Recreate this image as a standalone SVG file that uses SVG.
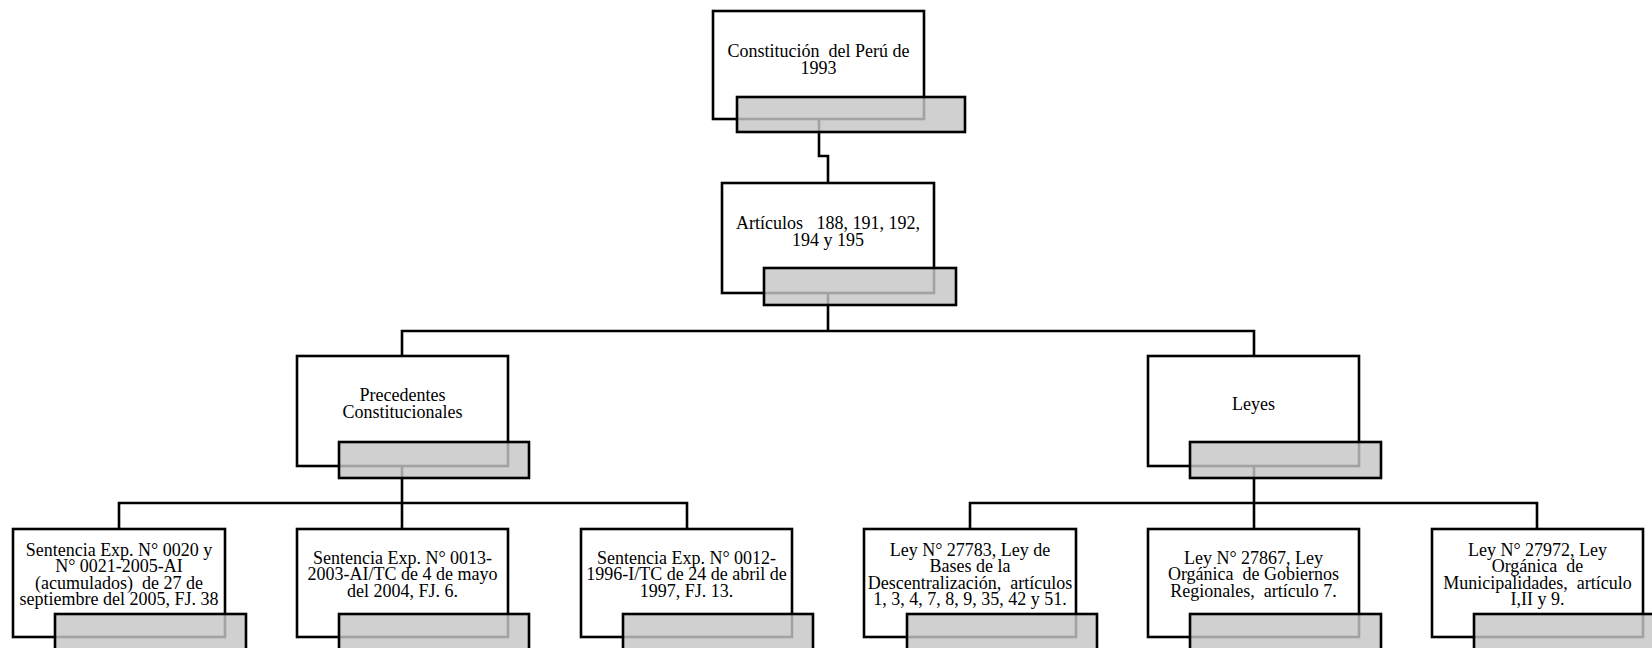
<svg xmlns="http://www.w3.org/2000/svg" width="1652" height="648" viewBox="0 0 1652 648">
<style>
.box{fill:#ffffff;stroke:#000000;stroke-width:2.6}
.tab{fill:#c6c6c6;fill-opacity:0.82;stroke:#000000;stroke-width:2.6}
.lbl{font-family:"Liberation Serif","Times New Roman",serif;font-size:18px;fill:#000000;text-anchor:middle;white-space:pre}
.con{fill:none;stroke:#000000;stroke-width:2.6}
</style>
<rect width="1652" height="648" fill="#ffffff"/>
<g id="connectors">
<polyline class="con" points="819,119 819,156 828,156 828,183"/>
<polyline class="con" points="828,293 828,331"/>
<polyline class="con" points="402,356 402,331 1254,331 1254,356"/>
<polyline class="con" points="402,466 402,503"/>
<polyline class="con" points="119,529 119,503 687,503 687,529"/>
<polyline class="con" points="402,503 402,529"/>
<polyline class="con" points="1254,466 1254,503"/>
<polyline class="con" points="970,529 970,503 1537,503 1537,529"/>
<polyline class="con" points="1254,503 1254,529"/>
</g>
<g id="n-constitucion">
<rect class="box" x="713" y="11" width="211" height="108"/>
<text class="lbl" x="818.5"><tspan x="818.5" y="57">Constitución  del Perú de</tspan><tspan x="818.5" y="73.5">1993</tspan></text>
<rect class="tab" x="737" y="97" width="228" height="35"/>
</g>
<g id="n-articulos">
<rect class="box" x="722" y="183" width="212" height="110"/>
<text class="lbl"><tspan x="828" y="229">Artículos   188, 191, 192,</tspan><tspan x="828" y="245.5">194 y 195</tspan></text>
<rect class="tab" x="764" y="268" width="192" height="37"/>
</g>
<g id="n-precedentes">
<rect class="box" x="297" y="356" width="211" height="110"/>
<text class="lbl"><tspan x="402.5" y="401">Precedentes</tspan><tspan x="402.5" y="417.5">Constitucionales</tspan></text>
<rect class="tab" x="339" y="442" width="190" height="36"/>
</g>
<g id="n-leyes">
<rect class="box" x="1148" y="356" width="211" height="110"/>
<text class="lbl" x="1253.5" y="410">Leyes</text>
<rect class="tab" x="1190" y="442" width="191" height="36"/>
</g>
<g id="n-sentencia-0020">
<rect class="box" x="13" y="529" width="212" height="108"/>
<text class="lbl"><tspan x="119" y="556">Sentencia Exp. N° 0020 y</tspan><tspan x="119" y="572.3">N° 0021-2005-AI</tspan><tspan x="119" y="588.6">(acumulados)  de 27 de</tspan><tspan x="119" y="604.9">septiembre del 2005, FJ. 38</tspan></text>
<rect class="tab" x="55" y="614" width="191" height="36"/>
</g>
<g id="n-sentencia-0013">
<rect class="box" x="297" y="529" width="211" height="108"/>
<text class="lbl"><tspan x="402.5" y="564">Sentencia Exp. N° 0013-</tspan><tspan x="402.5" y="580.3">2003-AI/TC de 4 de mayo</tspan><tspan x="402.5" y="596.6">del 2004, FJ. 6.</tspan></text>
<rect class="tab" x="339" y="614" width="190" height="36"/>
</g>
<g id="n-sentencia-0012">
<rect class="box" x="581" y="529" width="211" height="108"/>
<text class="lbl"><tspan x="686.5" y="564">Sentencia Exp. N° 0012-</tspan><tspan x="686.5" y="580.3">1996-I/TC de 24 de abril de</tspan><tspan x="686.5" y="596.6">1997, FJ. 13.</tspan></text>
<rect class="tab" x="623" y="614" width="190" height="36"/>
</g>
<g id="n-ley-27783">
<rect class="box" x="864" y="529" width="212" height="108"/>
<text class="lbl"><tspan x="970" y="556">Ley N° 27783, Ley de</tspan><tspan x="970" y="572.3">Bases de la</tspan><tspan x="970" y="588.6">Descentralización,  artículos</tspan><tspan x="970" y="604.9">1, 3, 4, 7, 8, 9, 35, 42 y 51.</tspan></text>
<rect class="tab" x="907" y="614" width="190" height="36"/>
</g>
<g id="n-ley-27867">
<rect class="box" x="1148" y="529" width="211" height="108"/>
<text class="lbl"><tspan x="1253.5" y="564">Ley N° 27867, Ley</tspan><tspan x="1253.5" y="580.3">Orgánica  de Gobiernos</tspan><tspan x="1253.5" y="596.6">Regionales,  artículo 7.</tspan></text>
<rect class="tab" x="1190" y="614" width="191" height="36"/>
</g>
<g id="n-ley-27972">
<rect class="box" x="1432" y="529" width="211" height="108"/>
<text class="lbl"><tspan x="1537.5" y="556">Ley N° 27972, Ley</tspan><tspan x="1537.5" y="572.3">Orgánica  de</tspan><tspan x="1537.5" y="588.6">Municipalidades,  artículo</tspan><tspan x="1537.5" y="604.9">I,II y 9.</tspan></text>
<rect class="tab" x="1474" y="614" width="190" height="36"/>
</g>
</svg>
